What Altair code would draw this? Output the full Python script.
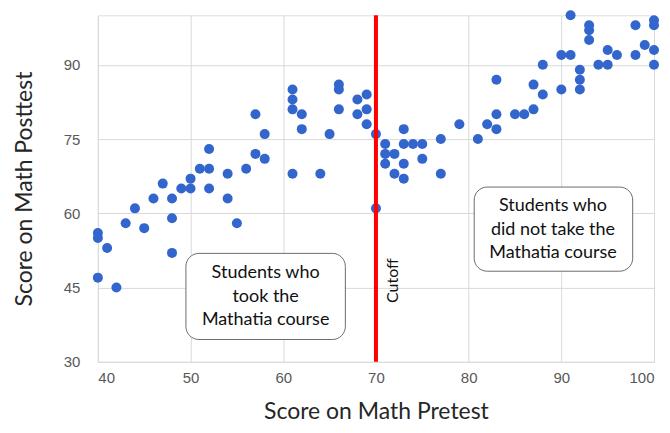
import altair as alt
import pandas as pd

# Scatter data
pretest = [40, 40, 40, 41, 42, 43, 44, 45, 46, 47,
           48, 48, 48, 49, 50, 50, 51, 52, 52, 52,
           54, 54, 55, 56, 57, 57, 58, 58, 61, 61,
           61, 61, 62, 62, 64, 65, 66, 66, 66, 68,
           68, 69, 69, 69, 70, 70, 71, 71, 71, 72,
           72, 73, 73, 73, 73, 74, 75, 75, 77, 77,
           79, 81, 82, 83, 83, 83, 85, 86, 87, 87,
           88, 88, 90, 90, 91, 91, 92, 92, 92, 93,
           93, 93, 94, 95, 95, 96, 98, 98, 99, 100,
           100, 100, 100]
posttest = [56, 55, 47, 53, 45, 58, 61, 57, 63, 66,
            63, 59, 52, 65, 65, 67, 69, 73, 69, 65,
            68, 63, 58, 69, 80, 72, 76, 71, 85, 83,
            81, 68, 80, 77, 68, 76, 86, 85, 81, 83,
            80, 84, 81, 78, 76, 61, 74, 72, 70, 72,
            68, 77, 74, 70, 67, 74, 74, 71, 75, 68,
            78, 75, 78, 87, 80, 77, 80, 80, 86, 81,
            90, 84, 92, 85, 100, 92, 89, 87, 85, 98,
            97, 95, 90, 93, 90, 92, 98, 92, 94, 99,
            98, 93, 90]

cutoff = [70]

# Annotation boxes (data coordinates)
box_x1 = [49.5, 80.6]
box_x2 = [66.7, 97.7]
box_y1 = [34.5, 48.3]
box_y2 = [51.9, 65.3]
box_tx = [58.1, 89.1]
box_ty = [47.9, 61.4]
box_text = ["Students who\ntook the\nMathatia course",
            "Students who\ndid not take the\nMathatia course"]

x_ticks = [40, 50, 60, 70, 80, 90, 100]
y_ticks = [30, 45, 60, 75, 90]

df = pd.DataFrame({"pre": pretest, "post": posttest})
cut_df = pd.DataFrame({"x": cutoff, "y": [46.4], "label": ["Cutoff"]})
box_df = pd.DataFrame({"x1": box_x1, "x2": box_x2, "y1": box_y1, "y2": box_y2,
                       "tx": box_tx, "ty": box_ty, "text": box_text})

xs = alt.Scale(domain=[40, 100], nice=False)
ys = alt.Scale(domain=[30, 100], nice=False)

xaxis = alt.Axis(values=x_ticks, title="Score on Math Pretest", grid=True,
                 gridColor="#d9d9d9", gridWidth=1, domain=False, ticks=False,
                 labelFont="Liberation Sans", labelFontSize=15, labelColor="#595959",
                 labelPadding=9, titleFont="Lato", titleFontSize=23,
                 titleFontWeight="normal", titleColor="#262626", titlePadding=15)
yaxis = alt.Axis(values=y_ticks, title="Score on Math Posttest", grid=True,
                 gridColor="#d9d9d9", gridWidth=1, domain=False, ticks=False,
                 labelFont="Liberation Sans", labelFontSize=15, labelColor="#595959",
                 labelPadding=18, titleFont="Lato", titleFontSize=23,
                 titleFontWeight="normal", titleColor="#262626", titlePadding=27)

points = alt.Chart(df).mark_circle(size=100, opacity=1, color="#3366cc").encode(
    x=alt.X("pre:Q", scale=xs, axis=xaxis),
    y=alt.Y("post:Q", scale=ys, axis=yaxis),
)

rule = alt.Chart(cut_df).mark_rule(color="#ff0000", strokeWidth=4).encode(
    x=alt.X("x:Q", scale=xs)
)

cut_text = alt.Chart(cut_df).mark_text(angle=270, font="Lato", fontSize=16,
                                       color="#111111", dy=17).encode(
    x=alt.X("x:Q", scale=xs), y=alt.Y("y:Q", scale=ys), text="label:N"
)

boxes = alt.Chart(box_df).mark_rect(cornerRadius=13, fill="white", stroke="#6b6b6b",
                                    strokeWidth=1).encode(
    x=alt.X("x1:Q", scale=xs), x2="x2:Q",
    y=alt.Y("y1:Q", scale=ys), y2="y2:Q",
)

box_texts = alt.Chart(box_df).mark_text(font="Lato", fontSize=18, color="#111111",
                                        lineBreak="\n", lineHeight=23.5,
                                        align="center", baseline="middle").encode(
    x=alt.X("tx:Q", scale=xs), y=alt.Y("ty:Q", scale=ys), text="text:N"
)

chart = alt.layer(points, rule, cut_text, boxes, box_texts).properties(
    width=557, height=347,
    autosize=alt.AutoSizeParams(type="none"),
    padding={"left": 90, "top": 7, "right": 8, "bottom": 70},
).configure_view(stroke=None).configure(background="white")

chart.save("out.html", embed_options={"renderer": "svg", "actions": False})
